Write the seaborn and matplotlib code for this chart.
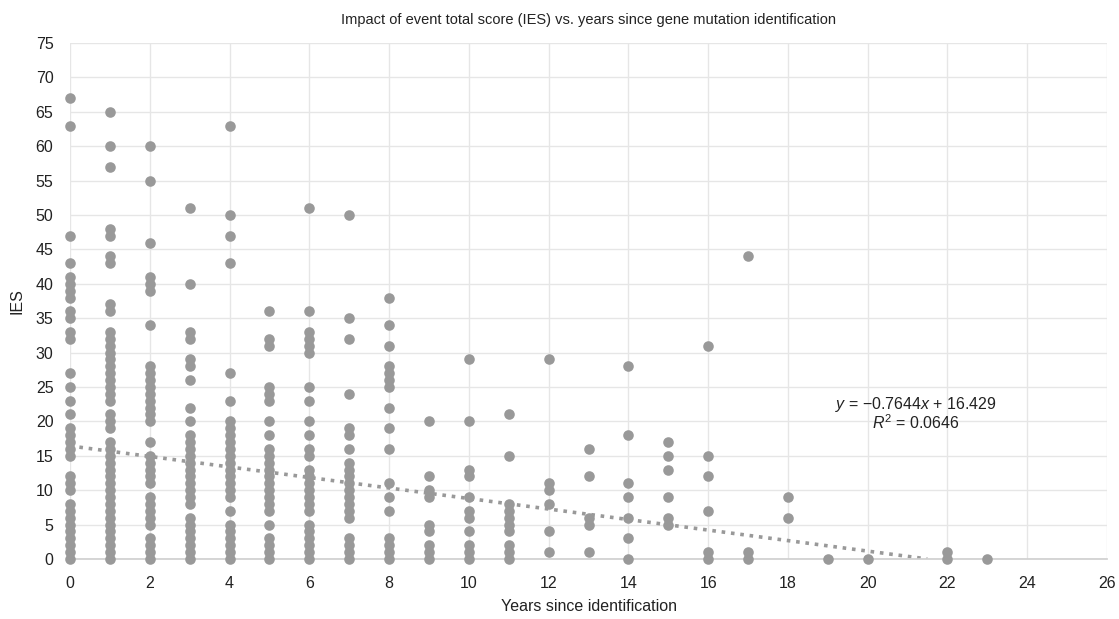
import matplotlib
matplotlib.use("Agg")
import matplotlib.pyplot as plt
import numpy as np
import pandas as pd
import seaborn as sns

# IES values per year since identification
years = [0, 1, 2, 3, 4, 5, 6, 7, 8, 9, 10, 11, 12, 13, 14, 15, 16, 17, 18, 19, 20, 22, 23]
ies_by_year = [
    [67, 63, 47, 43, 41, 40, 39, 38, 36, 35, 33, 32, 27, 25, 23, 21, 19, 18, 17, 16, 15,
     12, 11, 10, 8, 7, 6, 5, 4, 3, 2, 1, 0],
    [65, 60, 57, 48, 47, 44, 43, 37, 36, 33, 32, 31, 30, 29, 28, 27, 26, 25, 24, 23,
     21, 20, 19, 17, 16, 15, 14, 13, 12, 11, 10, 9, 8, 7, 6, 5, 4, 3, 2, 1, 0],
    [60, 55, 46, 41, 40, 39, 34, 28, 27, 26, 25, 24, 23, 22, 21, 20, 17, 15, 14, 13, 12, 11,
     9, 8, 7, 6, 5, 3, 2, 1, 0],
    [51, 40, 33, 32, 29, 28, 26, 22, 20, 18, 17, 16, 15, 14, 13, 12, 11, 10, 9, 8,
     6, 5, 4, 3, 2, 1, 0],
    [63, 50, 47, 43, 27, 23, 20, 19, 18, 17, 16, 15, 14, 13, 12, 11, 10, 9, 7,
     5, 4, 3, 2, 1, 0],
    [36, 32, 31, 25, 24, 23, 20, 18, 16, 15, 14, 13, 12, 11, 10, 9, 8, 7, 5, 3, 2, 1, 0],
    [51, 36, 33, 32, 31, 30, 25, 23, 20, 18, 16, 15, 13, 12, 11, 10, 9, 8, 7,
     5, 4, 3, 2, 1, 0],
    [50, 35, 32, 24, 19, 18, 16, 14, 13, 12, 11, 10, 9, 8, 7, 6, 3, 2, 1, 0],
    [38, 34, 31, 28, 27, 26, 25, 22, 19, 16, 11, 9, 7, 3, 2, 1, 0],
    [20, 12, 10, 9, 5, 4, 2, 1, 0],
    [29, 20, 13, 12, 9, 7, 6, 4, 2, 1, 0],
    [21, 15, 8, 7, 6, 5, 4, 2, 1, 0],
    [29, 11, 10, 8, 4, 1],
    [16, 12, 6, 5, 1],
    [28, 18, 11, 9, 6, 3, 0],
    [17, 15, 13, 9, 6, 5],
    [31, 15, 12, 7, 1, 0],
    [44, 1, 0],
    [9, 6],
    [0],
    [0],
    [1, 0],
    [0],
]

# linear trendline shown on the chart
slope = -0.7644
intercept = 16.429
r_squared = 0.0646

x_ticks = list(range(0, 27, 2))
y_ticks = list(range(0, 76, 5))

rows = []
for yr, vals in zip(years, ies_by_year):
    for v in vals:
        rows.append((yr, v))
df = pd.DataFrame(rows, columns=["years", "ies"])

sns.set_theme(style="whitegrid")
plt.rcParams["font.family"] = ["Liberation Sans", "DejaVu Sans"]
plt.rcParams["mathtext.fontset"] = "custom"
plt.rcParams["mathtext.it"] = "Liberation Sans:italic"
plt.rcParams["mathtext.rm"] = "Liberation Sans"

fig, ax = plt.subplots(figsize=(11.19, 6.19), dpi=100)
fig.subplots_adjust(left=0.0626, right=0.9893, top=0.9305, bottom=0.097)

sns.scatterplot(data=df, x="years", y="ies", color="#999999", s=58,
                linewidth=0, ax=ax, zorder=3)

# trendline runs until it crosses zero
x_end = -intercept / slope
trend = pd.DataFrame({"x": [0, x_end], "y": [intercept, intercept + slope * x_end]})
ax.plot(trend["x"], trend["y"], color="#999999", linestyle=(0, (1, 1.6)),
        linewidth=2.6, zorder=2)

ax.text(21.2, 22.4, "$y$ = \u22120.7644$x$ + 16.429", ha="center", va="center",
        fontsize=11.5, color="#222222")
ax.text(21.2, 19.8, f"$R^2$ = {r_squared}", ha="center", va="center",
        fontsize=11.5, color="#222222")

ax.set_xlim(0, 26)
ax.set_ylim(0, 75)
ax.set_xticks(x_ticks)
ax.set_yticks(y_ticks)
ax.tick_params(axis="x", labelsize=11.5, colors="#222222", length=0, pad=12)
ax.tick_params(axis="y", labelsize=11.5, colors="#222222", length=0, pad=12)
ax.grid(True, color="#e6e6e6", linewidth=1)
for side in ["top", "right", "left"]:
    ax.spines[side].set_visible(False)
ax.spines["bottom"].set_color("#d0d0d0")
ax.margins(0)
for c in ax.collections:
    c.set_clip_on(False)

ax.set_xlabel("Years since identification", fontsize=11.5, color="#222222", labelpad=6)
ax.set_ylabel("IES", fontsize=11.5, color="#222222", labelpad=8)
ax.set_title("Impact of event total score (IES) vs. years since gene mutation identification",
             fontsize=10.5, color="#222222", pad=14)

fig.savefig("out.png", dpi=100)
